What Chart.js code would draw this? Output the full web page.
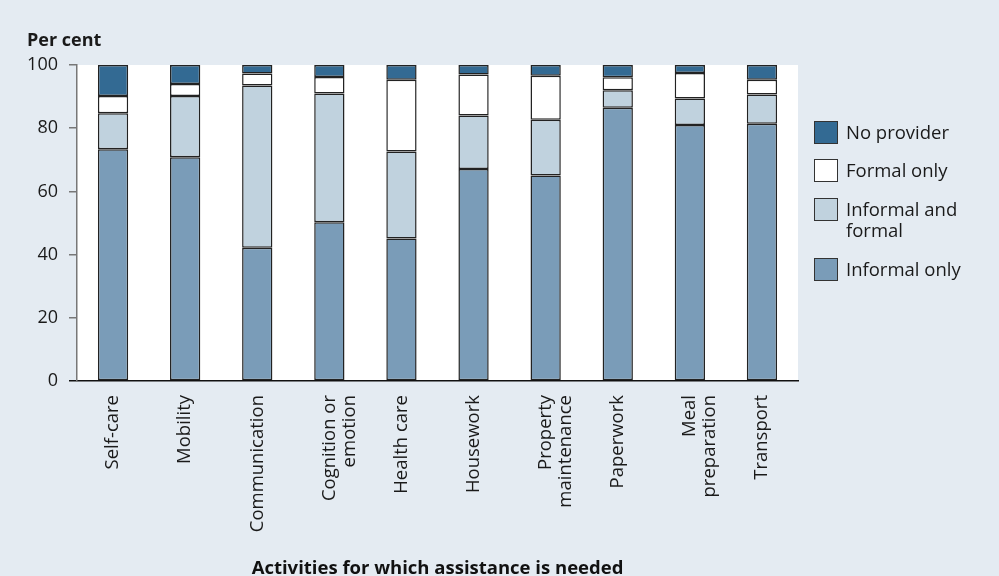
<!DOCTYPE html>
<html>
<head>
<meta charset="utf-8">
<script src="https://cdn.jsdelivr.net/npm/chart.js@4.4.0/dist/chart.umd.min.js"></script>
<style>
  html, body { margin: 0; padding: 0; background: #e4ebf2; }
  #wrap { position: relative; width: 999px; height: 576px; font-family: "Open Sans", sans-serif; color: #1a1a1a; }
  #yTitle { position: absolute; left: 27px; top: 27px; font-weight: bold; font-size: 18px; }
  #legend { position: absolute; left: 814px; top: 0; }
  .lg-item { position: absolute; left: 0; display: flex; align-items: flex-start; white-space: nowrap; }
  .lg-box { width: 22px; height: 21px; border: 1px solid #333; flex: none; }
  .lg-text { margin-left: 8px; font-size: 18.5px; line-height: 21px; margin-top: 0px; }
</style>
</head>
<body>
<div id="wrap">
  <canvas id="chart" width="999" height="576"></canvas>
  <div id="yTitle">Per cent</div>
  <div id="legend"></div>
</div>
<script>
// categories and stacked shares (per cent)
const categories = ['Self-care', 'Mobility', 'Communication', ['Cognition or', 'emotion'], 'Health care',
  'Housework', ['Property', 'maintenance'], 'Paperwork', ['Meal', 'preparation'], 'Transport'];
const informalOnly      = [73.3, 70.8, 42.2, 50.2, 45.1, 67.1, 65.0, 86.5, 81.0, 81.4];
const informalAndFormal = [11.4, 19.4, 51.3, 40.8, 27.5, 16.9, 17.7,  5.5,  8.4,  9.3];
const formalOnly        = [ 5.5,  3.8,  3.8,  5.2, 22.7, 13.0, 13.9,  4.1,  8.1,  4.6];
const noProvider        = [ 9.8,  6.0,  2.7,  3.8,  4.7,  3.0,  3.4,  3.9,  2.5,  4.7];
const yTicks = [0, 20, 40, 60, 80, 100];

const seriesNames  = ['Informal only', 'Informal and\nformal', 'Formal only', 'No provider'];
const seriesColors = ['#7a9cb8', '#c0d2de', '#ffffff', '#336a93'];
const seriesData   = [informalOnly, informalAndFormal, formalOnly, noProvider];

const FONT = '"Open Sans", sans-serif';

const datasets = seriesData.map((d, i) => ({
  label: seriesNames[i],
  data: d,
  backgroundColor: seriesColors[i],
  borderColor: '#222222',
  borderWidth: 1.5,
  borderSkipped: false,
  barPercentage: 0.42,
  categoryPercentage: 1
}));

// white plotting area behind the bars
const plotBg = {
  id: 'plotBg',
  beforeDraw(chart) {
    const a = chart.chartArea, c = chart.ctx;
    c.save();
    c.fillStyle = '#ffffff';
    c.fillRect(a.left, a.top, a.right - a.left, a.bottom - a.top);
    c.restore();
  }
};

new Chart(document.getElementById('chart'), {
  type: 'bar',
  data: { labels: categories, datasets: datasets },
  plugins: [plotBg],
  options: {
    responsive: false,
    animation: false,
    layout: { padding: { top: 65, right: 201, bottom: 0, left: 0 } },
    plugins: { legend: { display: false }, tooltip: { enabled: false } },
    scales: {
      x: {
        stacked: true,
        afterFit: s => { s.height = 195; },
        grid: { display: false },
        border: { display: true, color: '#111111', width: 1.5 },
        ticks: { autoSkip: false, minRotation: 90, maxRotation: 90, padding: 6,
                 color: '#1a1a1a', font: { family: FONT, size: 18.5, lineHeight: 1.1 } },
        title: { display: true, text: 'Activities for which assistance is needed',
                 color: '#111111', padding: { top: 0, bottom: -4 },
                 font: { family: FONT, size: 18.5, weight: 'bold' } }
      },
      y: {
        stacked: true,
        min: 0, max: 100,
        afterFit: s => { s.width = 77; },
        afterBuildTicks: s => { s.ticks = yTicks.map(v => ({ value: v })); },
        grid: { drawOnChartArea: false, drawTicks: true, tickLength: 8, lineWidth: 1.5,
                tickColor: ctx => ctx.tick && ctx.tick.value === 0 ? '#111111' : '#777777' },
        border: { display: true, color: '#777777', width: 1.5 },
        ticks: { padding: 11, color: '#1a1a1a', font: { family: FONT, size: 18 } }
      }
    }
  }
});

// legend, top entry is the top of each stack
const legendTops = [121, 159, 198, 258];
const legend = document.getElementById('legend');
[3, 2, 1, 0].forEach((k, i) => {
  const item = document.createElement('div');
  item.className = 'lg-item';
  item.style.top = legendTops[i] + 'px';
  const box = document.createElement('div');
  box.className = 'lg-box';
  box.style.background = seriesColors[k];
  const txt = document.createElement('div');
  txt.className = 'lg-text';
  txt.innerHTML = seriesNames[k].split('\n').join('<br>');
  item.appendChild(box);
  item.appendChild(txt);
  legend.appendChild(item);
});
</script>
</body>
</html>
